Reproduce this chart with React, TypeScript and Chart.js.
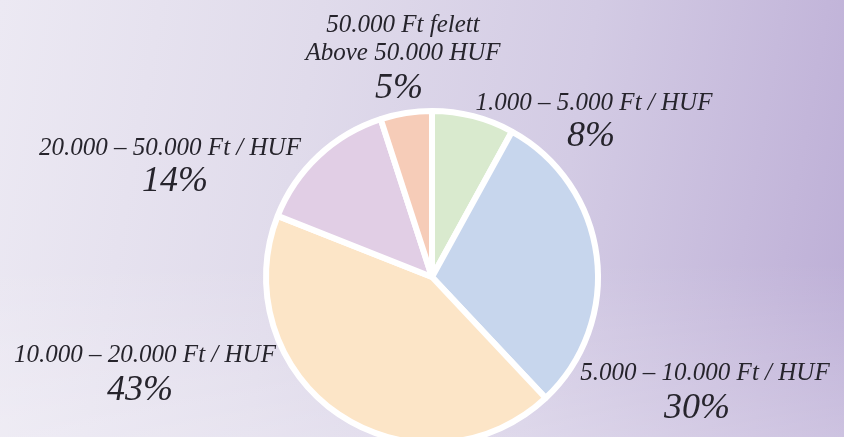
import React, { useEffect, useRef } from "react";
import { Chart, registerables } from "chart.js";

Chart.register(...registerables);

const categories = [
  "1.000 – 5.000 Ft / HUF",
  "5.000 – 10.000 Ft / HUF",
  "10.000 – 20.000 Ft / HUF",
  "20.000 – 50.000 Ft / HUF",
  "50.000 Ft felett\nAbove 50.000 HUF",
];
const shares = [8, 30, 43, 14, 5];
const sliceColors = ["#D9EACE", "#C7D6ED", "#FCE5C7", "#E1CEE5", "#F6CCB8"];

// label placement (pixel offsets from pie centre): first text line, percentage line
const labelOffsets = [
  { x: 162, y: -174, px: 159, py: -140 },
  { x: 273, y: 96, px: 265, py: 132 },
  { x: -287, y: 78, px: -292, py: 114 },
  { x: -262, y: -129, px: -257, py: -95 },
  { x: -29, y: -252, px: -33, py: -188 },
];

const labelPlugin = {
  id: "sliceLabels",
  afterDraw(chart: any) {
    const meta = chart.getDatasetMeta(0);
    const arc = meta.data[0];
    if (!arc) return;
    const cx = arc.x;
    const cy = arc.y;
    const ctx = chart.ctx;
    ctx.save();
    ctx.fillStyle = "#26242c";
    ctx.textAlign = "center";
    ctx.textBaseline = "middle";
    const labels = chart.data.labels as string[];
    const values = chart.data.datasets[0].data as number[];
    labels.forEach((lab, i) => {
      const o = labelOffsets[i];
      const lines = lab.split("\n");
      ctx.font = "italic 25px 'Liberation Serif', serif";
      lines.forEach((ln, j) => {
        ctx.fillText(ln, cx + o.x, cy + o.y + j * 28);
      });
      ctx.font = "italic 36px 'Liberation Serif', serif";
      ctx.fillText(values[i] + "%", cx + o.px, cy + o.py);
    });
    ctx.restore();
  },
};

export default function App() {
  const ref = useRef<HTMLCanvasElement>(null);
  useEffect(() => {
    document.body.style.margin = "0";
    document.body.style.overflow = "hidden";
    const chart = new Chart(ref.current!, {
      type: "pie",
      data: {
        labels: categories,
        datasets: [
          {
            data: shares,
            backgroundColor: sliceColors,
            borderColor: "#ffffff",
            borderWidth: 6,
          },
        ],
      },
      options: {
        animation: false,
        responsive: false,
        events: [],
        radius: 166,
        layout: { padding: { left: 264, right: 244, top: 109, bottom: 15 } },
        plugins: {
          legend: { display: false },
          tooltip: { enabled: false },
        },
      },
      plugins: [labelPlugin],
    });
    return () => chart.destroy();
  }, []);
  return (
    <div
      style={{
        position: "relative",
        width: 844,
        height: 437,
        overflow: "hidden",
        background:
          "linear-gradient(to top, rgba(255,255,255,0.25), rgba(255,255,255,0) 40%), linear-gradient(100deg, #ECE9F3 0%, #E0DBEB 35%, #D3CBE4 65%, #C3B6DA 90%, #BCAED6 100%)",
      }}
    >
      <canvas
        ref={ref}
        width={844}
        height={460}
        style={{ position: "absolute", left: 0, top: 0 }}
      />
    </div>
  );
}
